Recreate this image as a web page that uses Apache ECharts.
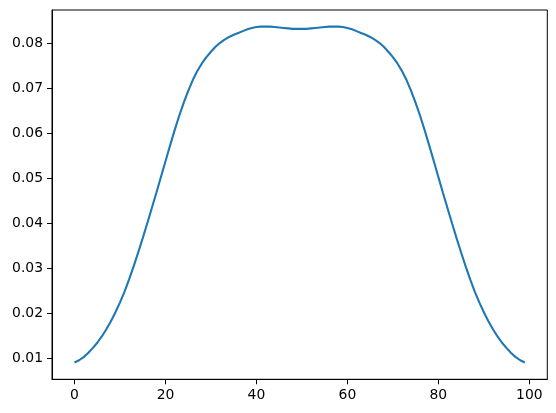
<!DOCTYPE html>
<html>
<head>
<meta charset="utf-8">
<script src="https://cdn.jsdelivr.net/npm/echarts@6/dist/echarts.min.js"></script>
<style>html,body{margin:0;padding:0;background:#fff}#c{width:556px;height:413px}</style>
</head>
<body>
<div id="c"></div>
<script>
const xValues = [];
for (let i = 0; i < 100; i++) xValues.push(i);
const yValues = [
0.0090,0.0095,0.0102,0.0111,0.0122,0.0134,0.0148,0.0164,0.0182,0.0202,
0.0224,0.0248,0.0275,0.0304,0.0335,0.0367,0.0400,0.0434,0.0468,0.0503,
0.0538,0.0573,0.0607,0.0639,0.0668,0.0695,0.0719,0.0739,0.0756,0.0770,
0.0782,0.0793,0.0802,0.0809,0.0815,0.0820,0.0824,0.0828,0.0832,0.0835,
0.0837,0.0838,0.0838,0.0838,0.0837,0.0836,0.0835,0.0834,0.0833,0.0833,
0.0833,0.0833,0.0834,0.0835,0.0836,0.0837,0.0838,0.0838,0.0838,0.0837,
0.0835,0.0832,0.0828,0.0824,0.0820,0.0815,0.0809,0.0802,0.0793,0.0782,
0.0770,0.0756,0.0739,0.0719,0.0695,0.0668,0.0639,0.0607,0.0573,0.0538,
0.0503,0.0468,0.0434,0.0400,0.0367,0.0335,0.0304,0.0275,0.0248,0.0224,
0.0202,0.0182,0.0164,0.0148,0.0134,0.0122,0.0111,0.0102,0.0095,0.0090
];
const xTicks = [0, 20, 40, 60, 80, 100];
const yTicks = [0.01, 0.02, 0.03, 0.04, 0.05, 0.06, 0.07, 0.08];

const chart = echarts.init(document.getElementById('c'), null, {renderer: 'canvas'});
const labelStyle = {color: '#000', fontFamily: 'DejaVu Sans', fontSize: 13.9};
chart.setOption({
  animation: false,
  grid: {left: 52, top: 10, right: 8.7, bottom: 33.7, show: true, borderColor: '#000', borderWidth: 1, backgroundColor: '#fff'},
  xAxis: {
    type: 'value', min: -4.95, max: 103.95,
    splitLine: {show: false},
    axisLine: {show: true, onZero: false, lineStyle: {color: '#000', width: 1}},
    axisTick: {show: true, inside: false, length: 5, lineStyle: {color: '#000', width: 1}, customValues: xTicks},
    axisLabel: Object.assign({margin: 9, customValues: xTicks, formatter: v => String(v)}, labelStyle)
  },
  yAxis: {
    type: 'value', min: 0.00526, max: 0.0875,
    splitLine: {show: false},
    axisLine: {show: true, onZero: false, lineStyle: {color: '#000', width: 1}},
    axisTick: {show: true, inside: false, length: 5, lineStyle: {color: '#000', width: 1}, customValues: yTicks},
    axisLabel: Object.assign({margin: 9, customValues: yTicks, formatter: v => v.toFixed(2)}, labelStyle)
  },
  series: [{
    type: 'line',
    data: xValues.map((x, i) => [x, yValues[i]]),
    showSymbol: false,
    smooth: false,
    lineStyle: {color: '#1f77b4', width: 2.1},
    itemStyle: {color: '#1f77b4'}
  }]
});
</script>
</body>
</html>
